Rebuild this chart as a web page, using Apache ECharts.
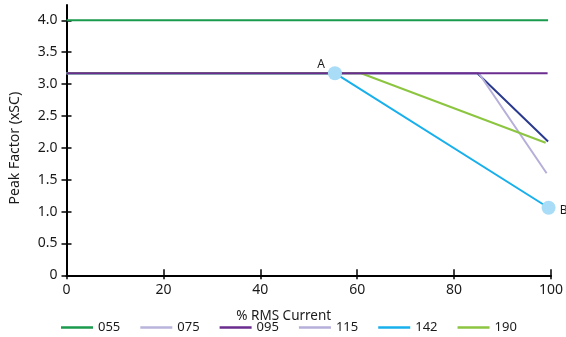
<!DOCTYPE html>
<html>
<head>
<meta charset="utf-8">
<script src="https://cdn.jsdelivr.net/npm/echarts@6/dist/echarts.min.js"></script>
<style>
  html, body { margin: 0; padding: 0; background: #fff; }
  #chart { width: 566px; height: 337px; }
</style>
</head>
<body>
<div id="chart"></div>
<script>
// Peak factor curves vs % RMS current
const seriesNames = ['055', '075', '095', '115', '142', '190'];
const s055 = [[0, 4.0], [99.4, 4.0]];
const s075 = [[0, 3.17], [84.8, 3.17], [99.4, 2.10]];
const s095 = [[0, 3.17], [99.3, 3.17]];
const s115 = [[0, 3.17], [85.1, 3.17], [99.1, 1.60]];
const s142 = [[0, 3.17], [55.4, 3.17], [99.5, 1.06]];
const s190 = [[0, 3.17], [60.8, 3.17], [98.9, 2.08]];
const markPoints = [['A', 55.4, 3.17], ['B', 99.5, 1.06]];
const yTicks = [0, 0.5, 1.0, 1.5, 2.0, 2.5, 3.0, 3.5, 4.0];
const xTicks = [0, 20, 40, 60, 80, 100];

const lineColors = {
  '055': '#1a9a4c',
  '075': '#2a3a8e',
  '095': '#6a2c8e',
  '115': '#b5afd9',
  '142': '#18b0ec',
  '190': '#8cc540'
};
const legendColors = {
  '055': '#1a9a4c',
  '075': '#b9b4dc',
  '095': '#6a2c8e',
  '115': '#b5afd9',
  '142': '#18b0ec',
  '190': '#8cc540'
};
const dataByName = { '055': s055, '075': s075, '095': s095, '115': s115, '142': s142, '190': s190 };

const FONT = 'Noto Sans';
const TXT = '#1a1a1a';

const chart = echarts.init(document.getElementById('chart'), null, { renderer: 'canvas' });

const lineSeries = seriesNames.map(n => ({
  name: n,
  type: 'line',
  data: dataByName[n],
  showSymbol: false,
  symbol: 'none',
  animation: false,
  z: n === '095' ? 4 : 2,
  lineStyle: { color: lineColors[n], width: 2 },
  itemStyle: { color: lineColors[n] }
}));

const baseX = {
  type: 'value', min: 0, max: 100, interval: 20,
  splitLine: { show: false }
};
const baseY = {
  type: 'value', min: 0, max: 4.24, interval: 0.5,
  splitLine: { show: false }
};

chart.setOption({
  animation: false,
  textStyle: { fontFamily: FONT },
  grid: { left: 66.5, right: 12, top: 5, bottom: 61.7, containLabel: false },
  legend: {
    left: 61, top: 321, padding: 0,
    icon: 'rect', itemWidth: 32, itemHeight: 2.5, itemGap: 20,
    textStyle: { fontFamily: FONT, fontSize: 13, color: TXT },
    data: seriesNames.map(n => ({ name: n, itemStyle: { color: legendColors[n] } }))
  },
  xAxis: [
    Object.assign({}, baseX, {
      name: '% RMS Current', nameLocation: 'middle', nameGap: 34,
      nameTextStyle: { fontFamily: FONT, fontSize: 13.5, color: TXT, padding: [0, 50, 0, 0] },
      axisLine: { onZero: false, lineStyle: { color: '#000', width: 2 } },
      axisTick: { show: true, length: 4, lineStyle: { color: '#000', width: 1.5 }, customValues: xTicks },
      axisLabel: { fontFamily: FONT, fontSize: 14, color: TXT, margin: 8, customValues: xTicks }
    }),
    Object.assign({}, baseX, {
      position: 'bottom', offset: 0,
      axisLine: { show: false },
      axisTick: { show: true, inside: true, length: 6, lineStyle: { color: '#000', width: 1.5 }, customValues: xTicks },
      axisLabel: { show: false }
    })
  ],
  yAxis: [
    Object.assign({}, baseY, {
      name: 'Peak Factor (xSC)', nameLocation: 'middle', nameGap: 44,
      nameTextStyle: { fontFamily: FONT, fontSize: 14, color: TXT, padding: [0, 16, 0, 0] },
      axisLine: { onZero: false, lineStyle: { color: '#000', width: 2 } },
      axisTick: { show: true, length: 5, lineStyle: { color: '#000', width: 1.5 }, customValues: yTicks },
      axisLabel: {
        fontFamily: FONT, fontSize: 14, color: TXT, margin: 9, customValues: yTicks,
        formatter: v => (v === 0 ? '0' : v.toFixed(1))
      }
    }),
    Object.assign({}, baseY, {
      position: 'left', offset: 0,
      axisLine: { show: false },
      axisTick: { show: true, inside: true, length: 5, lineStyle: { color: '#000', width: 1.5 }, customValues: yTicks },
      axisLabel: { show: false }
    })
  ],
  series: lineSeries.concat([{
    name: 'points',
    type: 'scatter',
    data: markPoints.map(p => ({ name: p[0], value: [p[1], p[2]] })),
    symbolSize: 14,
    z: 5,
    itemStyle: { color: '#a9dcf6', opacity: 1 },
    label: {
      show: true,
      formatter: p => p.name,
      fontFamily: FONT, fontSize: 12, color: TXT,
      position: 'left'
    },
    labelLayout: p => p.dataIndex === 0 ? { dx: 2, dy: -9 } : { dx: 31, dy: 3 }
  }])
});
</script>
</body>
</html>
